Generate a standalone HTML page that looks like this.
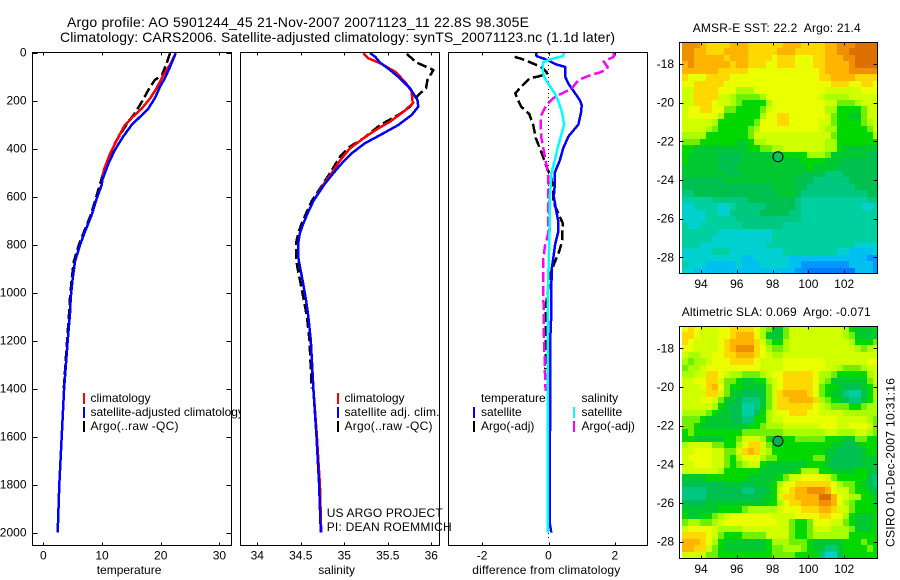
<!DOCTYPE html>
<html>
<head>
<meta charset="utf-8">
<title>Argo profile chart</title>
<style>
html,body{margin:0;padding:0;background:#fff;width:900px;height:580px;overflow:hidden}
svg{display:block}
text{font-family:"Liberation Sans",sans-serif;font-size:12px;fill:#000}
.t14{font-size:14px}
.frame{fill:none;stroke:#000;stroke-width:1;shape-rendering:crispEdges}
.tick{stroke:#000;stroke-width:1;shape-rendering:crispEdges}
.ln{fill:none;stroke-width:2.5;shape-rendering:crispEdges;stroke-linejoin:round}
.dash{stroke-dasharray:10 4}
.sw{stroke-width:2;shape-rendering:crispEdges}
</style>
</head>
<body>
<svg id="chart" xmlns="http://www.w3.org/2000/svg" width="900" height="580" viewBox="0 0 900 580">
  <rect x="0" y="0" width="900" height="580" fill="#fff"/>
  <text class="t14" x="67" y="27" textLength="462">Argo profile: AO 5901244_45 21-Nov-2007 20071123_11 22.8S 98.305E</text>
  <text class="t14" x="60" y="42" textLength="555">Climatology: CARS2006. Satellite-adjusted climatology: synTS_20071123.nc (1.1d later)</text>

  <g id="p1"></g>
  <g id="p1legend">
    <line class="sw" x1="84" y1="393" x2="84" y2="404" stroke="#f00"/>
    <line class="sw" x1="84" y1="407" x2="84" y2="418" stroke="#00f"/>
    <line class="sw" x1="84" y1="421" x2="84" y2="432" stroke="#000"/>
    <text x="90.5" y="402">climatology</text>
    <text x="90.5" y="416">satellite-adjusted climatology</text>
    <text x="90.5" y="430" textLength="88">Argo(..raw -QC)</text>
  </g>

  <rect x="240" y="50" width="208" height="500" fill="#fff"/>
  <g id="p2"></g>
  <g id="p2legend">
    <line class="sw" x1="338" y1="393" x2="338" y2="404" stroke="#f00"/>
    <line class="sw" x1="338" y1="407" x2="338" y2="418" stroke="#00f"/>
    <line class="sw" x1="338" y1="421" x2="338" y2="432" stroke="#000"/>
    <text x="344.5" y="402">climatology</text>
    <text x="344.5" y="416" textLength="95">satellite adj. clim.</text>
    <text x="344.5" y="430" textLength="88">Argo(..raw -QC)</text>
  </g>

  <g id="p3"></g>
  <g id="p3legend">
    <line class="sw" x1="474" y1="407" x2="474" y2="418" stroke="#00f"/>
    <line class="sw" x1="474" y1="421" x2="474" y2="432" stroke="#000"/>
    <line class="sw" x1="574" y1="407" x2="574" y2="418" stroke="#0ff"/>
    <line class="sw" x1="574" y1="421" x2="574" y2="432" stroke="#f0f"/>
    <text x="481" y="402">temperature</text>
    <text x="481" y="416">satellite</text>
    <text x="481" y="430">Argo(-adj)</text>
    <text x="581.5" y="402">salinity</text>
    <text x="581.5" y="416">satellite</text>
    <text x="581.5" y="430">Argo(-adj)</text>
  </g>

  <text x="96.7" y="574">temperature</text>
  <text x="318.3" y="574">salinity</text>
  <text x="472.3" y="574" textLength="148">difference from climatology</text>

  <text x="326.7" y="517" textLength="116">US ARGO PROJECT</text>
  <text x="326.7" y="531" textLength="125">PI: DEAN ROEMMICH</text>

  <g id="m1"></g>
  <g id="m2"></g>
  <text x="692.7" y="32" textLength="168" xml:space="preserve">AMSR-E SST: 22.2  Argo: 21.4</text>
  <text x="681.7" y="316" textLength="189" xml:space="preserve">Altimetric SLA: 0.069  Argo: -0.071</text>
  <text transform="translate(894.5,547) rotate(-90)" x="0" y="0" textLength="169">CSIRO 01-Dec-2007 10:31:16</text>
</svg>
<script>
// ---- profile data ----
const depthTicks = [0,200,400,600,800,1000,1200,1400,1600,1800,2000];
const tempTicks = [0,10,20,30];
const salTicks = [34,34.5,35,35.5,36];
const diffTicks = [-2,0,2];
const tempClimDepths = [3,50,94,149,191,233,267,302,365,420,490,552,608,677,746,802,871,941,1024,1087,1200,1400,1600,1800,2000];
const tempClim = [22.55,21.6,20.45,19.3,18.2,16.8,15.3,13.9,12.5,11.4,10.3,9.95,9.1,8.24,7.1,6.25,5.4,5,4.67,4.55,4.15,3.55,3.13,2.73,2.45];
const tempSatDepths = [3,59,108,142,191,233,267,302,351,406,462,531,552,608,677,746,802,871,941,1024,1087,1200,1400,1600,1800,2000];
const tempSat = [22.55,21.6,20.7,19.9,19,17.9,16.5,15.05,13.6,12.2,11.1,10.05,9.94,9.1,8.24,7.1,6.25,5.4,5,4.67,4.55,4.15,3.55,3.13,2.73,2.45];
const tempArgoDepths = [3,45,94,115,156,205,253,288,330,378,441,503,608,677,746,802,871,941,1024,1087,1200,1400];
const tempArgo = [21.6,21,20.2,19,17.9,16.8,15.6,14.5,13.4,12.2,11.1,10.2,8.95,8.1,6.95,6.05,5.2,4.85,4.55,4.4,4.05,3.5];
const salClimDepths = [3,24,48,80,122,163,212,247,288,320,358,399,450,500,550,616,663,712,753,795,851,892,948,1031,1100,1200,1400,1600,1800,2000];
const salClim = [35.219,35.277,35.43,35.583,35.698,35.775,35.786,35.679,35.526,35.372,35.219,35.066,34.95,34.86,34.76,34.65,34.586,34.53,34.49,34.47,34.47,34.49,34.52,34.56,34.586,34.615,34.645,34.685,34.72,34.735];
const salSatDepths = [3,17,42,73,108,149,198,226,260,302,344,378,420,455,500,550,616,663,712,753,795,851,892,948,1031,1100,1200,1400,1600,1800,2000];
const salSat = [35.296,35.353,35.411,35.526,35.641,35.756,35.84,35.851,35.775,35.621,35.411,35.238,35.085,34.989,34.88,34.77,34.65,34.586,34.53,34.49,34.47,34.47,34.49,34.52,34.56,34.586,34.615,34.644,34.68,34.71,34.73];
const salArgoDepths = [6,42,73,115,149,177,226,256,302,358,392,434,500,550,616,663,712,753,795,851,892,948,1031,1100,1200,1400];
const salArgo = [35.717,35.832,36.024,35.955,35.939,35.851,35.756,35.641,35.411,35.219,35.066,34.951,34.84,34.75,34.63,34.57,34.51,34.47,34.445,34.445,34.46,34.49,34.535,34.57,34.6,34.625];
const dTempSatDepths = [0,15,30,50,60,100,130,170,200,220,250,300,350,400,450,500,550,600,650,700,750,800,850,900,1000,1100,1200,1400,1775,1960,2000];
const dTempSat = [-0.38,-0.36,-0.06,0.24,0.5,0.5,0.6,0.8,0.95,1,0.98,0.9,0.6,0.44,0.34,0.19,0.19,0.16,0.22,0.29,0.29,0.2,0.15,0.1,0.08,0.08,0.05,0.05,0.04,0.04,0.08];
const dSalSatDepths = [0,15,25,40,70,100,130,170,200,250,300,350,400,450,500,550,600,700,800,900,1000,2000];
const dSalSat = [0.46,0.44,0.14,-0.16,-0.18,-0.14,-0.01,0.19,0.29,0.41,0.47,0.37,0.27,0.19,0.09,0.07,0.04,0.04,0.02,0,-0.02,-0.02];
const dTempArgoDepths = [18,31,52,59,80,90,100,107,142,170,198,226,256,302,358,400,448,476,524,566,622,712,754,782,830,870,927,1059,1268,1320];
const dTempArgo = [-1.02,-0.72,-0.36,-0.24,-0.06,-0.06,-0.31,-0.56,-0.82,-1,-0.92,-0.82,-0.58,-0.46,-0.38,-0.26,-0.13,-0.06,0.09,0.14,0.14,0.43,0.42,0.42,0.32,0.2,0.04,-0.08,-0.08,-0.1];
const dSalArgoDepths = [0,18,38,60,70,83,91,103,115,150,157,175,191,219,267,302,358,420,469,517,580,650,754,811,867,1006,1090,1172,1311,1395,1410];
const dSalArgo = [1.96,1.96,1.66,1.78,1.76,1.55,1.35,1.1,0.9,0.7,0.6,0.34,0.14,-0.06,-0.24,-0.24,-0.21,-0.13,-0.06,-0.01,-0.01,-0.01,-0.01,-0.11,-0.16,-0.16,-0.14,-0.14,-0.11,-0.09,-0.09];

// ---- map data: colour-level per grid cell, rows from north to south ----
const mapLonTicks = [94,96,98,100,102];
const mapLatTicks = [-18,-20,-22,-24,-26,-28];
const argoLon = [98.3];
const argoLat = [-22.8];
const sstLevels = [
[15,15,15,14,13,13,13,13,14,14,14,13,13,13,13,13,13,14,14,14,13,13,13,13,14,14,15,15,15,16,16,16,16],
[15,15,14,14,13,13,13,14,14,14,14,13,13,13,13,13,14,14,14,13,13,13,13,13,14,14,15,15,16,16,16,16,16],
[15,15,14,14,14,14,14,13,14,14,14,13,13,13,13,12,13,13,13,12,12,12,13,13,14,14,14,15,15,16,16,16,16],
[14,15,14,14,14,14,14,14,13,14,14,13,13,13,12,12,13,13,13,12,12,12,13,13,14,14,14,14,15,16,16,16,16],
[14,14,14,14,14,14,13,13,13,13,13,12,12,12,12,12,12,12,12,12,12,12,12,13,14,14,14,14,15,15,15,15,15],
[13,12,12,12,13,13,13,13,12,12,12,12,12,12,12,12,12,12,12,12,12,12,12,13,13,14,14,14,14,13,13,13,13],
[12,12,13,13,13,13,13,12,12,12,12,12,12,12,12,12,12,12,12,12,12,12,12,12,12,13,13,13,12,12,13,13,12],
[11,11,13,13,13,13,12,12,12,10,10,10,12,12,12,12,12,12,12,12,12,12,12,12,11,11,11,11,11,11,12,12,12],
[11,11,13,13,13,13,11,11,10,9,9,9,9,10,12,12,12,12,12,12,12,12,12,11,10,10,10,10,11,11,11,11,11],
[11,11,13,13,13,12,11,11,10,9,8,8,8,8,10,12,12,12,12,12,12,12,12,12,11,11,9,9,9,10,11,11,11],
[11,12,12,13,13,12,12,9,9,8,8,8,8,9,11,12,12,12,12,12,12,12,12,12,10,10,8,8,8,8,9,11,11],
[11,12,12,12,12,12,10,8,8,8,8,8,8,10,12,12,13,13,12,12,12,12,12,12,11,9,8,8,7,7,9,11,11],
[11,11,11,11,11,10,8,8,8,8,8,8,9,12,12,12,13,13,12,12,12,12,12,11,11,9,8,8,8,8,9,10,11],
[11,11,11,11,10,9,8,8,8,8,8,9,10,12,12,12,12,12,12,12,12,12,12,11,10,10,8,8,8,8,8,9,11],
[10,10,10,10,8,8,8,8,8,8,8,9,11,11,11,11,11,11,11,11,11,11,11,11,11,9,8,8,8,8,8,8,10],
[9,9,9,8,8,8,8,8,8,7,7,8,10,10,11,11,11,11,11,11,11,11,11,11,10,10,8,8,8,8,8,8,8],
[8,8,7,7,7,7,7,7,7,7,7,8,8,9,9,10,10,11,11,11,11,11,11,11,10,10,8,7,7,7,7,7,7],
[8,7,7,7,7,7,6,6,6,6,7,7,7,7,7,7,8,8,8,8,8,10,10,10,9,7,7,7,7,7,7,6,6],
[8,7,7,7,7,7,6,6,6,6,7,7,7,7,7,7,7,7,7,7,8,8,8,8,7,7,7,6,6,6,6,6,6],
[7,7,7,7,7,7,6,6,6,7,7,7,7,7,7,7,7,7,7,7,7,8,7,7,7,7,6,6,6,6,6,6,6],
[7,7,7,7,7,7,7,6,6,6,7,7,7,7,7,7,7,7,7,7,6,6,6,6,5,5,5,6,6,6,6,6,6],
[6,6,6,6,6,6,6,7,7,7,7,7,7,7,7,7,7,7,7,6,6,6,5,5,5,5,5,5,6,6,6,6,6],
[6,6,6,6,6,6,6,6,6,6,6,6,6,6,6,7,7,7,7,6,6,5,5,5,5,5,5,5,5,6,6,6,6],
[5,5,6,6,6,6,6,6,6,6,6,6,6,6,6,6,7,7,7,6,5,5,5,5,5,5,5,5,5,5,5,6,6],
[4,4,4,4,4,5,5,5,5,5,5,6,6,6,6,6,6,6,6,5,4,4,4,4,4,4,4,4,4,4,4,5,5],
[3,3,4,4,4,4,3,3,4,5,5,5,5,5,6,6,6,6,6,5,4,4,4,4,4,4,4,4,4,4,3,3,4],
[3,3,3,3,4,4,3,3,5,5,5,5,5,6,6,6,6,6,5,5,4,4,4,4,4,4,4,4,4,4,4,4,4],
[3,3,3,3,4,4,4,4,4,5,5,5,5,5,5,5,5,5,5,5,4,4,4,4,4,4,4,4,4,4,4,4,4],
[4,3,3,4,4,4,4,4,4,4,5,5,5,5,5,5,5,4,4,4,4,4,4,4,4,4,4,4,4,4,4,4,4],
[4,4,4,4,4,4,3,3,3,3,3,3,3,3,3,4,4,4,4,4,4,4,4,4,4,4,4,4,4,4,4,4,4],
[4,4,4,4,4,3,3,3,3,3,3,3,3,3,3,4,4,4,4,4,4,4,4,4,4,4,4,4,4,4,4,4,4],
[4,4,4,3,3,3,3,3,3,3,3,3,3,3,4,4,4,4,4,4,4,4,4,4,4,4,4,4,4,3,3,3,3],
[3,3,3,3,3,4,4,4,3,3,3,3,3,3,3,3,3,4,4,4,4,4,4,4,4,4,3,3,2,2,2,2,3],
[3,3,3,3,3,3,3,3,3,3,2,2,3,3,3,3,3,3,2,2,2,2,2,2,2,2,2,2,2,2,2,1,1],
[4,3,3,3,2,2,2,2,2,3,2,2,2,3,3,3,3,3,2,2,1,1,1,1,1,1,1,1,2,2,2,2,1],
[3,3,2,2,2,2,2,2,2,2,2,2,2,2,2,2,2,2,2,1,1,0,0,0,0,0,0,0,0,2,2,2,1]
];
const slaLevels = [
[12,13,12,11,11,11,12,12,13,13,13,13,12,10,9,7,7,9,11,11,11,11,11,11,11,11,11,10,8,7,7,7,8],
[13,13,12,11,11,11,12,12,13,14,14,14,12,10,7,7,7,9,11,11,11,11,11,11,11,11,11,10,9,7,7,7,7],
[13,12,11,11,11,11,12,13,14,14,14,14,13,11,9,8,8,10,11,11,11,11,11,11,11,11,11,11,10,8,8,8,9],
[12,12,11,11,11,11,12,13,14,15,15,15,13,12,10,9,9,10,11,11,11,11,11,11,11,11,11,11,11,10,9,10,11],
[11,10,10,11,11,12,12,13,13,14,14,14,13,12,11,10,10,11,11,11,11,11,11,11,11,11,11,11,11,11,11,11,11],
[10,9,10,10,11,12,12,12,13,13,13,13,12,11,11,11,11,12,12,12,12,12,12,12,11,11,11,11,11,11,11,12,12],
[9,10,10,11,12,12,12,12,12,12,12,12,12,11,11,11,11,12,12,12,12,12,12,12,11,11,10,9,9,9,10,11,11],
[10,10,11,11,13,13,12,11,10,10,9,9,9,10,11,12,12,13,13,13,13,13,12,10,10,9,8,8,8,8,8,10,11],
[11,11,12,12,13,13,11,9,9,8,7,7,8,8,10,11,12,13,13,13,13,13,12,10,9,7,7,7,7,7,7,9,11],
[11,11,11,12,13,14,12,9,8,8,7,7,7,7,9,11,12,13,13,13,13,13,12,9,8,8,7,6,6,6,7,8,10],
[11,11,11,11,13,13,11,9,7,7,6,6,6,7,9,11,13,14,14,14,14,13,12,9,8,7,7,5,4,4,6,8,10],
[11,11,11,12,12,11,9,7,7,6,5,5,5,7,9,11,13,13,14,14,14,14,13,10,9,8,7,6,5,5,7,8,10],
[11,11,11,11,11,10,8,7,6,6,4,4,5,7,9,11,13,13,13,13,13,13,12,11,10,9,9,9,8,8,9,10,10],
[10,10,10,10,9,8,7,7,6,6,4,4,6,8,10,11,12,12,13,13,13,12,12,11,11,11,11,10,10,10,10,10,10],
[9,9,9,8,7,7,7,7,6,6,5,5,8,8,10,11,11,12,12,12,12,12,12,12,12,12,11,11,11,11,11,10,9],
[9,9,8,7,7,7,7,7,7,7,7,8,8,9,10,10,10,11,11,11,11,11,11,12,12,12,11,11,12,12,12,11,9],
[8,9,8,8,8,8,8,8,8,8,9,9,9,9,9,9,9,10,10,10,10,10,10,10,11,11,10,10,10,11,11,10,9],
[8,8,7,7,7,7,7,8,8,9,11,11,11,10,8,7,7,8,8,9,9,9,9,9,8,8,8,7,7,9,9,8,8],
[10,11,11,11,11,9,9,8,8,10,12,13,13,11,9,8,8,8,8,8,8,8,8,8,8,7,7,6,6,7,8,8,8],
[11,11,12,12,12,11,11,9,9,11,13,14,13,11,10,8,8,8,8,8,8,8,8,8,7,7,6,6,6,6,7,8,8],
[11,12,12,12,12,11,11,9,8,10,12,12,12,10,9,9,8,8,8,8,8,8,9,9,7,6,6,6,6,6,7,7,7],
[11,11,12,12,12,11,11,9,8,9,10,11,11,8,7,7,7,7,7,7,7,8,8,8,7,6,6,6,6,6,7,7,7],
[11,11,11,11,11,11,10,8,8,8,8,8,8,7,7,7,7,7,7,8,10,10,10,8,8,7,7,7,7,8,8,7,6],
[7,7,7,7,8,8,8,8,8,8,8,7,7,7,7,7,8,9,11,11,12,12,12,12,11,9,8,8,8,8,8,6,5],
[6,6,6,6,6,6,6,7,7,7,6,6,7,7,7,8,10,12,12,13,13,13,13,13,13,12,10,9,9,8,7,6,5],
[5,5,5,5,6,6,6,6,6,6,5,5,6,6,7,8,11,12,13,14,14,15,15,15,14,12,11,11,9,8,8,7,6],
[5,5,5,5,6,6,6,6,6,6,6,6,6,7,7,8,11,13,13,14,14,14,14,16,16,14,12,11,10,10,8,8,7],
[6,6,6,6,7,7,7,7,7,7,7,7,7,7,8,8,10,12,13,13,14,14,14,15,15,14,12,10,9,8,8,8,7],
[7,7,7,7,7,7,8,8,8,8,9,10,10,10,10,10,11,12,12,12,13,13,13,14,14,13,11,11,9,8,8,8,8],
[8,7,7,8,8,9,10,11,12,12,12,12,12,12,12,11,11,11,11,12,12,12,12,13,13,12,12,10,8,7,7,7,8],
[9,10,10,9,9,10,11,12,12,12,12,12,12,12,12,12,11,11,9,8,8,9,12,12,12,11,11,9,8,7,7,7,8],
[11,12,12,12,12,11,10,10,10,10,11,11,11,11,11,11,11,11,9,8,8,9,11,11,11,10,10,10,9,7,7,7,8],
[13,13,13,13,12,11,9,8,8,8,9,9,9,9,11,11,11,11,9,8,8,9,10,10,10,10,10,10,8,8,8,8,8],
[14,14,14,13,12,10,8,7,7,7,7,7,7,7,8,10,10,10,9,9,9,8,7,7,7,7,7,8,8,8,9,8,8],
[14,14,13,13,11,9,8,7,7,7,7,7,7,7,8,9,9,10,10,10,9,8,7,7,5,5,7,8,8,8,8,9,8],
[11,11,11,11,9,9,8,8,8,8,8,8,8,8,8,9,9,9,9,8,8,8,8,5,3,3,6,8,8,8,8,8,8]
];
const levelColors = ['#0078ff','#0098ff','#00c0f0','#00d0d0','#00d0a0','#00c880','#00c050','#00c830','#00d800','#70f000','#a8ff00','#d0ff00','#eaff00','#ffd800','#ffb400','#f09000','#dc7000'];

// ---- axis functions ----
const depthY = d => 52.5 + d * 0.24;
const tempX = v => 43.3 + v * 5.87;
const salX = v => 257.3 + (v - 34) * 87;
const diffX = v => 548.5 + v * 33.2;
const lonX = v => 701 + (v - 94) * 17.9;
const latY1 = v => 64 - (v + 18) * 19.33;
const latY2 = v => 348.3 - (v + 18) * 19.33;

const SVGNS = 'http://www.w3.org/2000/svg';
function mk(parent, tag) {
  const el = document.createElementNS(SVGNS, tag);
  
  parent.appendChild(el);
  return el;
}
function lineEl(parent, x1, y1, x2, y2) {
  const el = mk(parent, 'line');
  el.setAttribute('class', 'tick');
  el.setAttribute('x1', Math.round(x1) + 0.5);
  el.setAttribute('y1', Math.round(y1) + 0.5);
  el.setAttribute('x2', Math.round(x2) + 0.5);
  el.setAttribute('y2', Math.round(y2) + 0.5);
  
  return el;
}
function labelEl(parent, x, y, anchor, str) {
  const el = mk(parent, 'text');
  el.setAttribute('x', x);
  el.setAttribute('y', y);
  el.setAttribute('text-anchor', anchor);
  el.textContent = str;
  
  return el;
}
function frameEl(parent, x, y, w, h) {
  const el = mk(parent, 'rect');
  el.setAttribute('class', 'frame');
  el.setAttribute('x', x + 0.5);
  el.setAttribute('y', y + 0.5);
  el.setAttribute('width', w);
  el.setAttribute('height', h);
  
  return el;
}
function profile(parent, values, depths, xFn, color, dashed) {
  const el = mk(parent, 'polyline');
  el.setAttribute('class', dashed ? 'ln dash' : 'ln');
  el.setAttribute('stroke', color);
  el.setAttribute('points', values.map((v, i) => xFn(v).toFixed(1) + ',' + depthY(depths[i]).toFixed(1)).join(' '));
  return el;
}
function xTicks(parent, ticks, xFn, fmt) {
  ticks.forEach(t => {
    const x = xFn(t);
    lineEl(parent, x, 52, x, 55);
    lineEl(parent, x, 545, x, 542);
    labelEl(parent, x, 559.5, 'middle', fmt ? fmt(t) : String(t));
  });
}

// ---- temperature panel ----
const p1 = document.getElementById('p1');
let s;
s = profile(p1, tempArgo, tempArgoDepths, tempX, '#000', true);

s = profile(p1, tempClim, tempClimDepths, tempX, '#f00', false);

s = profile(p1, tempSat, tempSatDepths, tempX, '#00f', false);

frameEl(p1, 32, 52, 199, 493);
xTicks(p1, tempTicks, tempX);
depthTicks.forEach(d => {
  const y = depthY(d);
  lineEl(p1, 32, y, 37, y);
  lineEl(p1, 231, y, 226, y);
  labelEl(p1, 26.5, y + 4, 'end', String(d));
});

// ---- salinity panel ----
const p2 = document.getElementById('p2');
s = profile(p2, salArgo, salArgoDepths, salX, '#000', true);

s = profile(p2, salClim, salClimDepths, salX, '#f00', false);

s = profile(p2, salSat, salSatDepths, salX, '#00f', false);

frameEl(p2, 240, 52, 199, 493);
xTicks(p2, salTicks, salX);

// ---- difference panel ----
const p3 = document.getElementById('p3');
const zero = mk(p3, 'line');
zero.setAttribute('x1', diffX(0));
zero.setAttribute('x2', diffX(0));
zero.setAttribute('y1', 53);
zero.setAttribute('y2', 540);
zero.setAttribute('stroke', '#000');
zero.setAttribute('stroke-dasharray', '1 3');
zero.setAttribute('shape-rendering', 'crispEdges');

s = profile(p3, dTempArgo, dTempArgoDepths, diffX, '#000', true);

s = profile(p3, dTempSat, dTempSatDepths, diffX, '#00f', false);

s = profile(p3, dSalArgo, dSalArgoDepths, diffX, '#f0f', true);

s = profile(p3, dSalSat, dSalSatDepths, diffX, '#0ff', false);

frameEl(p3, 448, 52, 199, 493);
xTicks(p3, diffTicks, diffX);

// ---- maps ----
function drawMap(group, levels, latY, top, bottom, fillColor) {
  const west = 92.94, step = 1 / 3;
  const north = (top - latY(-18)) / -19.33 - 18;
  levels.forEach((row, r) => {
    row.forEach((lev, c) => {
      const cell = mk(group, 'rect');
      const x0 = Math.round(lonX(west + c * step));
      const x1 = Math.min(877, Math.round(lonX(west + (c + 1) * step)));
      const y0 = Math.round(latY(north - r * step));
      const y1 = Math.min(bottom, Math.round(latY(north - (r + 1) * step)));
      cell.setAttribute('x', x0);
      cell.setAttribute('y', y0);
      cell.setAttribute('width', Math.max(0, x1 - x0));
      cell.setAttribute('height', Math.max(0, y1 - y0));
      cell.setAttribute('fill', levelColors[lev]);
      cell.setAttribute('shape-rendering', 'crispEdges');
      
    });
  });
  frameEl(group, 679, top, 198, bottom - top);
  mapLonTicks.forEach(t => {
    const x = lonX(t);
    lineEl(group, x, top, x, top + 3);
    lineEl(group, x, bottom, x, bottom - 3);
    labelEl(group, x, bottom + 15, 'middle', String(t));
  });
  mapLatTicks.forEach(t => {
    const y = latY(t);
    lineEl(group, 679, y, 683, y);
    lineEl(group, 877, y, 873, y);
    labelEl(group, 674, y + 4, 'end', '-' + Math.abs(t));
  });
  const dot = mk(group, 'circle');
  dot.setAttribute('cx', lonX(argoLon[0]));
  dot.setAttribute('cy', latY(argoLat[0]));
  dot.setAttribute('r', 5);
  dot.setAttribute('fill', fillColor);
  dot.setAttribute('stroke', '#000');
  
}
drawMap(document.getElementById('m1'), sstLevels, latY1, 42, 273, '#00c060');
drawMap(document.getElementById('m2'), slaLevels, latY2, 326, 558, '#00b050');
</script>
</body>
</html>
